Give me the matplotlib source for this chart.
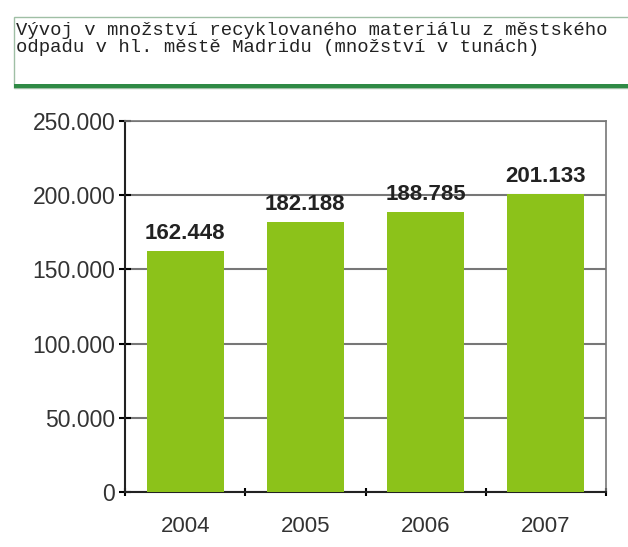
import matplotlib
matplotlib.use('Agg')
import matplotlib.pyplot as plt
from matplotlib.patches import Rectangle

years = ['2004', '2005', '2006', '2007']
amounts = [162448, 182188, 188785, 201133]
value_labels = ['162.448', '182.188', '188.785', '201.133']
yticks = [0, 50000, 100000, 150000, 200000, 250000]
ytick_labels = ['0', '50.000', '100.000', '150.000', '200.000', '250.000']
title_lines = ['Vývoj v množství recyklovaného materiálu z městského',
               'odpadu v hl. městě Madridu (množství v tunách)']


def main():
    plt.rcParams['font.family'] = ['Liberation Sans', 'DejaVu Sans']
    fig = plt.figure(figsize=(6.28, 5.47), dpi=100)

    # title box with green bottom border
    fig.patches.append(Rectangle((14 / 628, 1 - 88 / 547), 620 / 628, 71 / 547,
                                 transform=fig.transFigure, facecolor='white',
                                 edgecolor='#9fbfa5', linewidth=1))
    fig.patches.append(Rectangle((14 / 628, 1 - 88 / 547), 620 / 628, 4 / 547,
                                 transform=fig.transFigure, facecolor='#2f8a45',
                                 edgecolor='none'))
    for i, line in enumerate(title_lines):
        fig.text(16 / 628, 1 - (35 + 17 * i) / 547, line, family='Liberation Mono',
                 fontsize=13.6, color='#222222', va='baseline', ha='left')

    ax = fig.add_axes([125 / 628, 55 / 547, 481 / 628, 371 / 547])
    x = range(len(years))
    ax.bar(x, amounts, width=0.64, color='#8cc21a', zorder=3)
    for xi, v, lab in zip(x, amounts, value_labels):
        ax.text(xi, v + 4500, lab, ha='center', va='bottom', fontsize=16,
                fontweight='bold', color='#222222')

    ax.set_xlim(-0.5, 3.5)
    ax.set_ylim(0, 250000)
    ax.set_yticks(yticks)
    ax.set_yticklabels(ytick_labels)
    ax.set_xticks([i - 0.5 for i in range(5)], minor=False)
    ax.set_xticklabels([])
    ax.set_xticks(list(x), minor=True)
    ax.set_xticklabels(years, minor=True)
    ax.tick_params(axis='x', which='minor', length=0, labelsize=16,
                   labelcolor='#333333', pad=17)
    ax.tick_params(axis='x', which='major', length=6, width=1.5, direction='inout')
    ax.tick_params(axis='y', length=8, width=1.5, direction='inout',
                   labelsize=16.5, labelcolor='#333333', pad=3)
    ax.yaxis.grid(True, color='#777777', linewidth=1.5, zorder=0)
    ax.set_axisbelow(True)

    ax.spines['left'].set_color('#222222')
    ax.spines['left'].set_linewidth(1.5)
    ax.spines['bottom'].set_color('#222222')
    ax.spines['bottom'].set_linewidth(1.5)
    ax.spines['top'].set_color('#777777')
    ax.spines['right'].set_color('#777777')
    ax.spines['top'].set_linewidth(1.2)
    ax.spines['right'].set_linewidth(1.2)

    fig.savefig('out.png', dpi=100)
    return 0


if __name__ == '__main__':
    raise SystemExit(main())
